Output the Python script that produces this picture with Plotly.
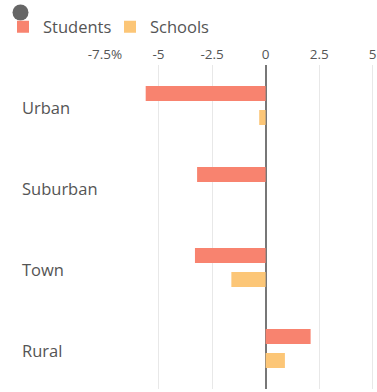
import plotly.graph_objects as go

categories = ["Urban", "Suburban", "Town", "Rural"]
students = [-5.6, -3.2, -3.3, 2.1]
schools = [-0.3, 0.0, -1.6, 0.9]
tick_vals = [-7.5, -5, -2.5, 0, 2.5, 5]
tick_text = ["-7.5%", "-5", "-2.5", "0", "2.5", "5"]

W, H = 377, 392
ML, MR, MT, MB = 105, 0, 65, 3
PW, PH = W - ML - MR, H - MT - MB

def px_x(p):
    return (p - ML) / PW

def px_y(p):
    return (H - MB - p) / PH

fig = go.Figure()
fig.add_trace(go.Bar(y=categories, x=students, name="Students", orientation="h",
                     marker=dict(color="#F8836F", line=dict(width=0))))
fig.add_trace(go.Bar(y=categories, x=schools, name="Schools", orientation="h",
                     marker=dict(color="#FCC677", line=dict(width=0))))

for c in categories:
    fig.add_annotation(text=c, x=px_x(20), xref="paper", xanchor="left",
                       y=c, yref="y", yshift=-2, showarrow=False,
                       font=dict(size=16.5, color="#555555"))

fig.add_shape(type="circle", xref="paper", yref="paper",
              x0=px_x(12.5), x1=px_x(28.5), y0=px_y(20.5), y1=px_y(4.5),
              fillcolor="#666666", line=dict(width=0), layer="above")

fig.update_layout(
    width=W, height=H,
    margin=dict(l=ML, r=MR, t=MT, b=MB),
    paper_bgcolor="white", plot_bgcolor="white",
    font=dict(family="Open Sans", color="#555555"),
    barmode="group", bargap=0.407, bargroupgap=0.375,
    showlegend=True,
    legend=dict(orientation="h", x=px_x(3), xanchor="left",
                y=px_y(27), yanchor="middle", bgcolor="rgba(0,0,0,0)",
                font=dict(size=16.5, color="#555555"),
                traceorder="normal", itemclick=False, itemwidth=30,
                entrywidth=62, entrywidthmode="pixels"),
    xaxis=dict(side="top", range=[-7.5, 5.2], tickvals=tick_vals, ticktext=tick_text,
               showgrid=True, gridcolor="#E8E8E8", gridwidth=1,
               zeroline=True, zerolinecolor="#777777", zerolinewidth=2,
               showline=False, ticks="", ticklabelstandoff=2,
               tickfont=dict(size=13.5, color="#555555")),
    yaxis=dict(autorange="reversed", showticklabels=False, showgrid=False,
               zeroline=False, showline=False, ticks=""),
)

fig.write_html("out.html")
